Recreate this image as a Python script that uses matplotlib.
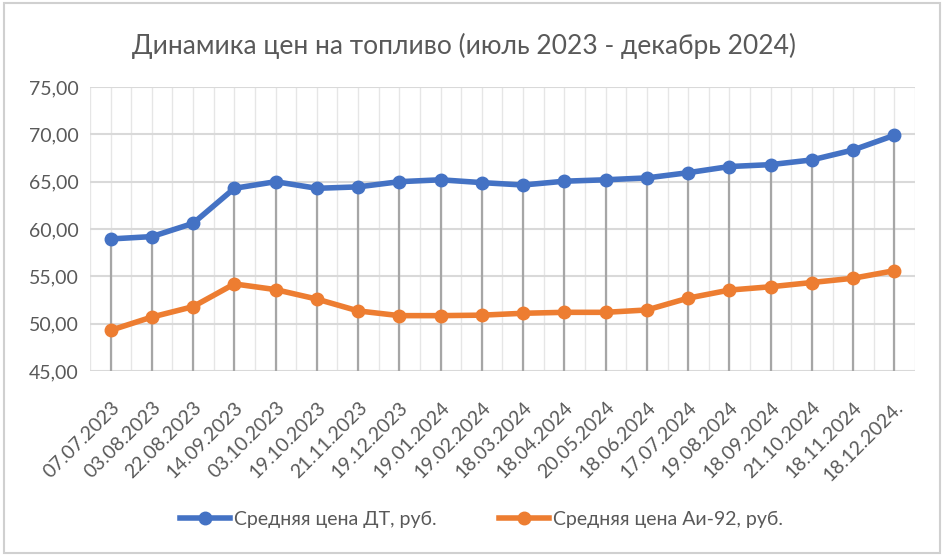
import matplotlib
matplotlib.use("Agg")
import matplotlib.pyplot as plt
from matplotlib.patches import Rectangle
import numpy as np

plt.rcParams['font.family'] = ['Lato', 'Open Sans', 'DejaVu Sans']

dates = ["07.07.2023", "03.08.2023", "22.08.2023", "14.09.2023", "03.10.2023",
         "19.10.2023", "21.11.2023", "19.12.2023", "19.01.2024", "19.02.2024",
         "18.03.2024", "18.04.2024", "20.05.2024", "18.06.2024", "17.07.2024",
         "19.08.2024", "18.09.2024", "21.10.2024", "18.11.2024", "18.12.2024."]
dt_price = [58.95, 59.2, 60.6, 64.3, 65.0, 64.3, 64.45, 65.0, 65.2, 64.9,
            64.65, 65.05, 65.2, 65.4, 65.95, 66.6, 66.8, 67.3, 68.35, 69.9]
ai92_price = [49.3, 50.7, 51.8, 54.2, 53.6, 52.6, 51.35, 50.85, 50.85, 50.9,
              51.1, 51.2, 51.2, 51.45, 52.7, 53.55, 53.9, 54.35, 54.8, 55.6]
yticks = [45, 50, 55, 60, 65, 70, 75]
title = "Динамика цен на топливо (июль 2023 - декабрь 2024)"
labels = ["Средняя цена ДТ, руб.", "Средняя цена Аи-92, руб."]

blue = "#4472C4"
orange = "#ED7D31"
text_col = "#595959"

fig = plt.figure(figsize=(9.44, 5.56), dpi=100)
fig.patches.append(Rectangle((0.004, 0.005), 0.992, 0.99, transform=fig.transFigure,
                             fill=False, edgecolor="#d0d0d0", lw=1.5))
ax = fig.add_axes([0.0953, 0.3327, 0.8740, 0.5108])

x = np.arange(len(dates))
# light vertical gridlines (category boundaries and centres)
for v in np.arange(-0.5, len(dates), 0.5):
    ax.axvline(v, color="#e6e6e6", lw=1.0, zorder=0)
for t in yticks:
    ax.axhline(t, color="#d9d9d9", lw=1.5, zorder=1)

# drop lines
top = np.maximum(dt_price, ai92_price)
ax.vlines(x, yticks[0], top, color="#a6a6a6", lw=1.6, zorder=2)

ax.plot(x, dt_price, color=blue, lw=4, marker="o", ms=9, zorder=4, label=labels[0])
ax.plot(x, ai92_price, color=orange, lw=4, marker="o", ms=9, zorder=4, label=labels[1])

ax.set_xlim(-0.5, len(dates) - 0.5)
ax.set_ylim(yticks[0], yticks[-1])
ax.set_yticks(yticks)
ax.set_yticklabels([f"{t:.2f}".replace(".", ",") for t in yticks], fontsize=14, color=text_col)
ax.set_xticks(x)
ax.set_xticklabels(dates, rotation=45, ha="right", rotation_mode="anchor", fontsize=14, color=text_col)
ax.tick_params(axis="y", length=0, pad=8)
ax.tick_params(axis="x", length=0, pad=20)
for s in ax.spines.values():
    s.set_visible(False)

fig.text(0.492, 0.917, title, ha="center", va="center", fontsize=19, color=text_col)

fig.legend(loc="center", bbox_to_anchor=(0.51, 0.066), ncol=2, frameon=False,
           fontsize=14, labelcolor=text_col, handlelength=2.6, columnspacing=3.2, handletextpad=0.2)

fig.savefig("out.png", dpi=100)
